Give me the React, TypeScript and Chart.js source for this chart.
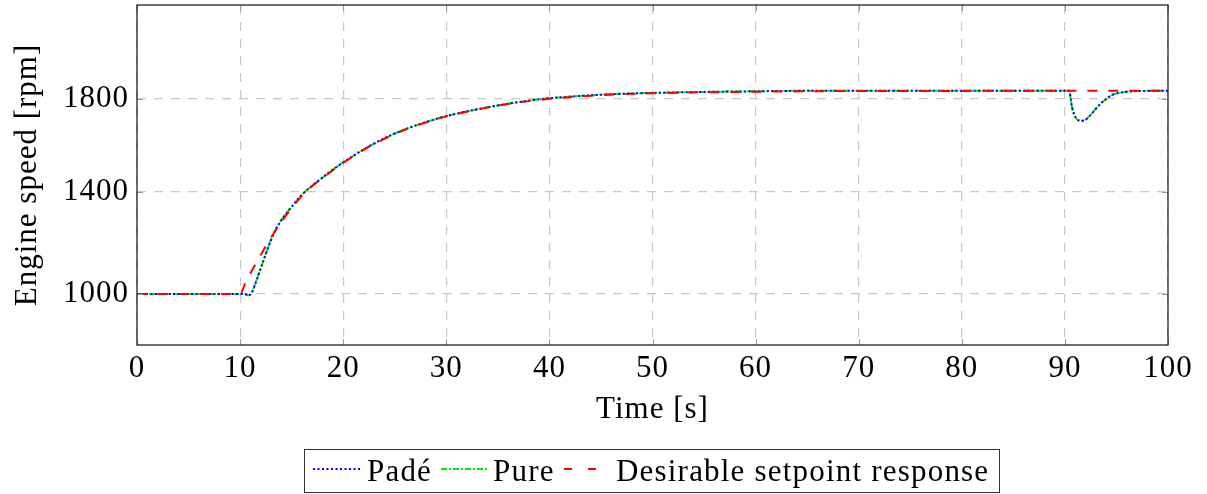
import React, { useEffect, useRef } from 'react';
import { Chart, registerables } from 'chart.js';

Chart.register(...registerables);

// ---- data ----
const padeTime = [0, 5, 10, 10.5, 10.8, 11.1, 11.5, 12, 12.5, 13, 13.5, 14, 14.5, 15, 16, 17, 18, 19, 20, 22, 24, 26, 28, 30, 33, 36, 39, 42, 45, 48, 52, 56, 60, 65, 70, 80, 90, 90.4, 90.7, 91, 91.5, 92, 92.5, 93, 93.5, 94, 94.5, 95, 96, 97, 100];
const padeSpeed = [1000, 1000, 1000, 999, 995, 1003, 1045, 1105, 1165, 1222, 1268, 1303, 1332, 1358, 1408, 1445, 1478, 1511, 1540, 1594, 1639, 1676, 1705, 1730, 1758, 1781, 1799, 1810, 1818, 1823, 1827, 1830, 1832, 1834, 1834, 1834, 1834, 1834, 1765, 1728, 1711, 1715, 1735, 1760, 1783, 1800, 1815, 1823, 1830, 1833, 1834];

const pureTime = [0, 5, 10, 10.5, 10.8, 11.1, 11.5, 12, 12.5, 13, 13.5, 14, 14.5, 15, 16, 17, 18, 19, 20, 22, 24, 26, 28, 30, 33, 36, 39, 42, 45, 48, 52, 56, 60, 65, 70, 80, 90, 90.4, 90.7, 91, 91.5, 92, 92.5, 93, 93.5, 94, 94.5, 95, 96, 97, 100];
const pureSpeed = [1000, 1000, 1000, 999, 995, 1004, 1046, 1106, 1166, 1223, 1268, 1304, 1333, 1358, 1408, 1445, 1478, 1511, 1540, 1594, 1639, 1676, 1705, 1730, 1758, 1781, 1799, 1810, 1818, 1823, 1827, 1830, 1832, 1834, 1834, 1834, 1834, 1834, 1764, 1727, 1711, 1716, 1736, 1761, 1783, 1800, 1815, 1823, 1830, 1833, 1834];

const desiredTime = [0, 10, 10.5, 11, 12, 13, 14, 15, 16, 17, 18, 20, 22, 24, 26, 28, 30, 33, 36, 40, 45, 50, 60, 70, 100];
const desiredSpeed = [1000, 1000, 1045, 1085, 1160, 1232, 1295, 1352, 1403, 1443, 1476, 1538, 1592, 1637, 1674, 1704, 1729, 1757, 1780, 1801, 1816, 1824, 1830, 1833, 1834];

const seriesNames = ['Padé', 'Pure', 'Desirable setpoint response'];
const xTicks = [0, 10, 20, 30, 40, 50, 60, 70, 80, 90, 100];
const yTickValues = [1000, 1420, 1800];
const yTickLabels = ['1000', '1400', '1800'];
const yRange = [791, 2186];
const xRange = [0, 100];
const xTitle = 'Time [s]';
const yTitle = 'Engine speed [rpm]';

const FONT = "'Liberation Serif', 'DejaVu Serif', serif";
const FS = 31;
const W = 1207;
const H = 430;

const toPoints = (t: number[], v: number[]) => t.map((x, i) => ({ x, y: v[i] }));

const spacingPlugin = {
  id: 'spacing',
  beforeInit(chart: any) { try { chart.ctx.letterSpacing = '1px'; } catch (e) {} },
  beforeLayout(chart: any) { try { chart.ctx.letterSpacing = '1px'; } catch (e) {} },
  beforeDraw(chart: any) { try { chart.ctx.letterSpacing = '1px'; } catch (e) {} },
};

const framePlugin = {
  id: 'frame',
  afterDraw(chart: any) {
    const { ctx, chartArea: a, scales } = chart;
    ctx.save();
    ctx.strokeStyle = '#9a9a9a';
    ctx.lineWidth = 1;
    ctx.setLineDash([]);
    const tl = 6;
    xTicks.forEach((v) => {
      const px = Math.round(scales.x.getPixelForValue(v)) + 0.5;
      ctx.beginPath();
      ctx.moveTo(px, a.bottom); ctx.lineTo(px, a.bottom - tl);
      ctx.moveTo(px, a.top); ctx.lineTo(px, a.top + tl);
      ctx.stroke();
    });
    yTickValues.forEach((v) => {
      const py = Math.round(scales.y.getPixelForValue(v)) + 0.5;
      ctx.beginPath();
      ctx.moveTo(a.left, py); ctx.lineTo(a.left + tl, py);
      ctx.moveTo(a.right, py); ctx.lineTo(a.right - tl, py);
      ctx.stroke();
    });
    ctx.strokeStyle = '#222';
    ctx.lineWidth = 1.3;
    ctx.strokeRect(a.left, a.top, a.right - a.left, a.bottom - a.top);
    ctx.restore();
  },
};

function LegendLine({ x1, x2, color, dash }: { x1: number; x2: number; color: string; dash: string }) {
  return (
    <line x1={x1} y1={469} x2={x2} y2={469} stroke={color} strokeWidth={2} strokeDasharray={dash} />
  );
}

export default function App() {
  const canvasRef = useRef<HTMLCanvasElement | null>(null);

  useEffect(() => {
    const canvas = canvasRef.current;
    if (!canvas) return;
    const chart = new Chart(canvas, {
      type: 'line',
      data: {
        datasets: [
          {
            label: seriesNames[2],
            data: toPoints(desiredTime, desiredSpeed),
            borderColor: '#ff0000',
            borderWidth: 2,
            borderDash: [10, 11],
            pointRadius: 0,
            cubicInterpolationMode: 'monotone',
            order: 0,
          },
          {
            label: seriesNames[0],
            data: toPoints(padeTime, padeSpeed),
            borderColor: '#0000ff',
            borderWidth: 2,
            borderDash: [2, 2.5],
            pointRadius: 0,
            cubicInterpolationMode: 'monotone',
            order: 1,
          },
          {
            label: seriesNames[1],
            data: toPoints(pureTime, pureSpeed),
            borderColor: '#00ee00',
            borderWidth: 2,
            borderDash: [6, 2, 2, 2],
            pointRadius: 0,
            cubicInterpolationMode: 'monotone',
            order: 2,
          },
        ],
      },
      options: {
        animation: false,
        responsive: false,
        devicePixelRatio: 1,
        layout: { padding: { left: 0, right: 39, top: 5, bottom: 0 } },
        plugins: { legend: { display: false }, tooltip: { enabled: false } },
        scales: {
          x: {
            type: 'linear',
            min: xRange[0],
            max: xRange[1],
            afterBuildTicks: (s: any) => { s.ticks = xTicks.map((v) => ({ value: v })); },
            afterFit: (s: any) => { s.height = H - 345; s.paddingLeft = 0; s.paddingRight = 0; },
            ticks: { color: '#000', font: { family: FONT, size: FS }, padding: 5, maxRotation: 0, autoSkip: false },
            grid: { color: '#c8c8c8', lineWidth: 1.2, drawTicks: false },
            border: { display: false, dash: [9, 8] },
            title: { display: true, text: xTitle, color: '#000', font: { family: FONT, size: FS }, padding: { top: 0, bottom: 2 } },
          },
          y: {
            type: 'linear',
            min: yRange[0],
            max: yRange[1],
            afterBuildTicks: (s: any) => { s.ticks = yTickValues.map((v) => ({ value: v })); },
            afterFit: (s: any) => { s.width = 137; s.paddingTop = 0; s.paddingBottom = 0; },
            ticks: {
              color: '#000',
              font: { family: FONT, size: FS },
              padding: 8,
              autoSkip: false,
              callback: (_v: any, i: number) => yTickLabels[i],
            },
            grid: { color: '#c8c8c8', lineWidth: 1.2, drawTicks: false },
            border: { display: false, dash: [9, 8] },
            title: { display: true, text: yTitle, color: '#000', font: { family: FONT, size: FS }, padding: { top: 9, bottom: 0 } },
          },
        },
      } as any,
      plugins: [spacingPlugin, framePlugin],
    });
    return () => chart.destroy();
  }, []);

  const textStyle: React.CSSProperties = {
    position: 'absolute',
    top: 455,
    fontFamily: FONT,
    fontSize: FS,
    lineHeight: `${FS}px`,
    letterSpacing: '1.2px',
    color: '#000',
    whiteSpace: 'nowrap',
  };

  return (
    <div style={{ position: 'absolute', left: 0, top: 0, width: W, height: 494, background: '#fff' }}>
      <canvas ref={canvasRef} width={W} height={H} style={{ position: 'absolute', left: 0, top: 0, width: W, height: H }} />
      <div style={{ position: 'absolute', left: 304, top: 449, width: 696, height: 44, border: '1px solid #333', boxSizing: 'border-box' }} />
      <svg width={W} height={494} style={{ position: 'absolute', left: 0, top: 0 }}>
        <LegendLine x1={313} x2={360} color="#0000ff" dash="2 2.5" />
        <LegendLine x1={441} x2={487} color="#00ee00" dash="6 2 2 2" />
        <LegendLine x1={564} x2={598} color="#ff0000" dash="8 16" />
      </svg>
      <span style={{ ...textStyle, left: 367 }}>{seriesNames[0]}</span>
      <span style={{ ...textStyle, left: 493 }}>{seriesNames[1]}</span>
      <span style={{ ...textStyle, left: 616 }}>{seriesNames[2]}</span>
    </div>
  );
}
